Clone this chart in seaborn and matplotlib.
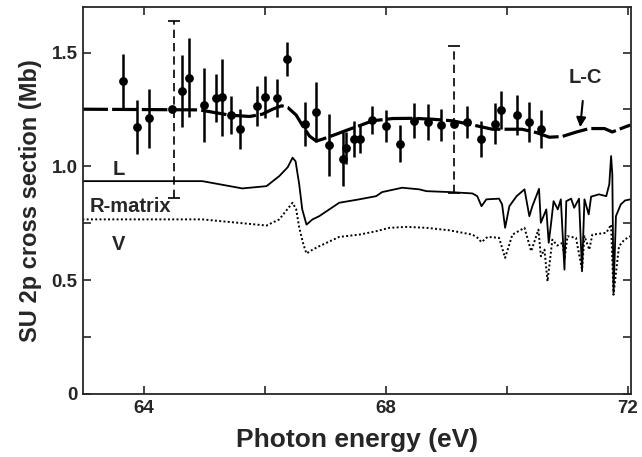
import numpy as np
import pandas as pd
import matplotlib
matplotlib.use("Agg")
import matplotlib.pyplot as plt
import seaborn as sns

# ---- data ----
exp_x = [63.66, 63.89, 64.09, 64.47, 64.63, 64.75, 65.00, 65.20, 65.30, 65.44, 65.59, 65.88,
         66.01, 66.21, 66.37, 66.66, 66.84, 67.07, 67.29, 67.34, 67.47, 67.57, 67.78, 68.01,
         68.24, 68.46, 68.69, 68.91, 69.12, 69.34, 69.57, 69.81, 69.91, 70.16, 70.36, 70.56]
exp_y = [1.376, 1.173, 1.211, 1.251, 1.332, 1.390, 1.270, 1.301, 1.303, 1.225, 1.166, 1.266,
         1.305, 1.300, 1.471, 1.185, 1.239, 1.093, 1.032, 1.079, 1.119, 1.119, 1.203, 1.178,
         1.100, 1.200, 1.195, 1.182, 1.187, 1.193, 1.119, 1.187, 1.247, 1.226, 1.195, 1.164]
exp_err = [0.119, 0.120, 0.130, 0.0, 0.157, 0.174, 0.163, 0.106, 0.170, 0.085, 0.088, 0.088,
           0.092, 0.083, 0.075, 0.096, 0.130, 0.136, 0.120, 0.070, 0.080, 0.062, 0.063, 0.070,
           0.083, 0.077, 0.079, 0.070, 0.0, 0.070, 0.078, 0.090, 0.085, 0.087, 0.088, 0.082]

sys_x = [64.51, 69.12]
sys_y = [1.250, 1.206]
sys_err = [0.390, 0.321]

lc_x = [62.99, 64.92, 65.42, 65.75, 65.96, 66.13, 66.28, 66.38, 66.52, 66.62, 66.74, 66.85,
        66.95, 67.18, 67.40, 67.56, 67.78, 68.11, 68.44, 68.77, 69.10, 69.38, 69.76, 70.25,
        70.49, 70.70, 70.91, 71.15, 71.36, 71.61, 71.74, 71.97, 72.04]
lc_y = [1.251, 1.248, 1.225, 1.219, 1.229, 1.251, 1.266, 1.259, 1.225, 1.181, 1.133, 1.111,
        1.119, 1.141, 1.163, 1.178, 1.200, 1.210, 1.211, 1.207, 1.200, 1.185, 1.163, 1.163,
        1.148, 1.128, 1.131, 1.151, 1.166, 1.166, 1.151, 1.175, 1.181]

L_x = [62.99, 64.97, 65.63, 66.03, 66.24, 66.38, 66.46, 66.51, 66.57, 66.62, 66.69, 66.79,
       66.90, 67.23, 67.56, 67.84, 67.94, 68.27, 68.55, 68.67, 69.05, 69.43, 69.51, 69.58,
       69.66, 69.87, 69.92, 69.97, 70.04, 70.16, 70.29, 70.37, 70.42, 70.53, 70.56, 70.65,
       70.69, 70.73, 70.77, 70.84, 70.89, 70.95, 70.98, 71.06, 71.11, 71.19, 71.24, 71.28,
       71.35, 71.39, 71.52, 71.64, 71.69, 71.72, 71.74, 71.76, 71.80, 71.88, 71.95, 72.04]
L_y = [0.935, 0.935, 0.903, 0.913, 0.957, 0.996, 1.038, 1.022, 0.921, 0.811, 0.744, 0.767,
       0.781, 0.840, 0.855, 0.869, 0.887, 0.906, 0.899, 0.891, 0.887, 0.881, 0.869, 0.825,
       0.855, 0.858, 0.833, 0.730, 0.825, 0.869, 0.899, 0.781, 0.825, 0.901, 0.752, 0.811,
       0.664, 0.752, 0.847, 0.811, 0.855, 0.546, 0.847, 0.858, 0.818, 0.858, 0.539, 0.855,
       0.789, 0.867, 0.877, 0.869, 0.921, 1.045, 0.965, 0.444, 0.781, 0.833, 0.850, 0.855]

V_x = [62.99, 64.97, 66.03, 66.24, 66.46, 66.52, 66.57, 66.64, 66.69, 66.79, 66.90, 67.23,
       67.56, 67.84, 68.06, 68.34, 68.67, 69.05, 69.43, 69.51, 69.58, 69.68, 69.87, 69.97,
       70.09, 70.29, 70.40, 70.52, 70.56, 70.62, 70.67, 70.75, 70.83, 70.92, 70.95, 71.00,
       71.14, 71.24, 71.28, 71.36, 71.41, 71.64, 71.72, 71.76, 71.85, 71.94, 72.04]
V_y = [0.767, 0.767, 0.740, 0.767, 0.840, 0.811, 0.731, 0.656, 0.617, 0.634, 0.649, 0.690,
       0.700, 0.715, 0.730, 0.734, 0.730, 0.719, 0.700, 0.687, 0.667, 0.690, 0.686, 0.598,
       0.700, 0.730, 0.627, 0.722, 0.605, 0.634, 0.495, 0.678, 0.652, 0.664, 0.590, 0.693,
       0.686, 0.546, 0.693, 0.634, 0.700, 0.708, 0.744, 0.436, 0.649, 0.678, 0.693]

x_ticks = [64, 66, 68, 70, 72]
x_ticklabels = ["64", "", "68", "", "72"]
y_ticks = [0, 0.25, 0.5, 0.75, 1.0, 1.25, 1.5]
y_ticklabels = ["0", "", "0.5", "", "1.0", "", "1.5"]

# ---- style ----
sns.set_theme(style="ticks")
plt.rcParams["font.family"] = ["Liberation Sans", "DejaVu Sans"]
plt.rcParams["font.weight"] = "bold"

fig = plt.figure(figsize=(6.42, 4.57), dpi=100)
ax = fig.add_axes([0.1293, 0.1379, 0.8537, 0.8468])

df_L = pd.DataFrame({"x": L_x, "y": L_y})
df_V = pd.DataFrame({"x": V_x, "y": V_y})
df_lc = pd.DataFrame({"x": lc_x, "y": lc_y})

sns.lineplot(data=df_L, x="x", y="y", ax=ax, color="black", lw=1.3,
             sort=False, estimator=None)
sns.lineplot(data=df_V, x="x", y="y", ax=ax, color="black", lw=1.4,
             sort=False, estimator=None, linestyle=(0, (1.0, 1.2)))
sns.lineplot(data=df_lc, x="x", y="y", ax=ax, color="black", lw=2.3,
             sort=False, estimator=None)
ax.lines[-1].set_dashes((8, 1.3))

# experimental points with error bars
ax.errorbar(exp_x, exp_y, yerr=exp_err, fmt="none", ecolor="black", elinewidth=1.8)
sns.scatterplot(x=exp_x, y=exp_y, ax=ax, color="black", s=40, edgecolor="black",
                linewidth=0, zorder=5)

# systematic (dashed) error bars
eb = ax.errorbar(sys_x, sys_y, yerr=sys_err, fmt="none", ecolor="black",
                 elinewidth=1.2, capsize=4, capthick=1.2)
for col in eb[2]:
    col.set_linestyle((0, (5, 3)))

# annotations
ax.text(63.59, 0.984, "L", fontsize=14.5, fontweight="bold", ha="center", va="center")
ax.text(63.79, 0.825, "R-matrix", fontsize=14.5, fontweight="bold", ha="center", va="center")
ax.text(63.58, 0.656, "V", fontsize=14.5, fontweight="bold", ha="center", va="center")
ax.annotate("L-C", xy=(71.21, 1.172), xytext=(71.29, 1.392), fontsize=14.5,
            fontweight="bold", ha="center", va="center",
            arrowprops=dict(arrowstyle="-|>", color="black", lw=1.5,
                            shrinkA=8, shrinkB=0, mutation_scale=14))

ax.set_xlim(63.0, 72.05)
ax.set_ylim(0, 1.70)
ax.set_xticks(x_ticks)
ax.set_xticklabels(x_ticklabels)
ax.set_yticks(y_ticks)
ax.set_yticklabels(y_ticklabels)
ax.tick_params(direction="in", length=6, width=1.2, top=True, right=True,
               labelsize=13.5, pad=4)
for lab in ax.get_xticklabels() + ax.get_yticklabels():
    lab.set_fontweight("bold")
for s in ax.spines.values():
    s.set_linewidth(1.3)
    s.set_visible(True)

ax.set_xlabel("Photon energy (eV)", fontsize=19, fontweight="bold", labelpad=8)
ax.set_ylabel("SU 2p cross section (Mb)", fontsize=17, fontweight="bold", labelpad=7)

fig.savefig("out.png", dpi=100)
